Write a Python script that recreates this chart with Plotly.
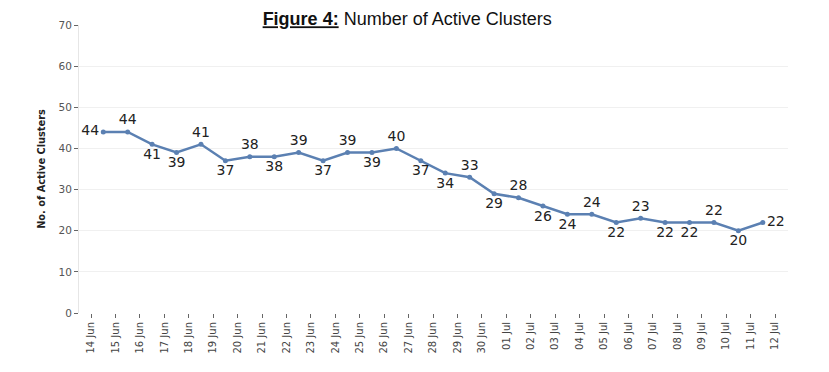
import plotly.graph_objects as go
import pandas as pd

dates = pd.date_range("2020-06-14", "2020-07-11", freq="D")
active_clusters = [44, 44, 41, 39, 41, 37, 38, 38, 39, 37, 39, 39, 40, 37,
                   34, 33, 29, 28, 26, 24, 24, 22, 23, 22, 22, 22, 20, 22]
label_pos = ["middle left", "top center", "bottom center", "bottom center", "top center",
             "bottom center", "top center", "bottom center", "top center", "bottom center",
             "top center", "bottom center", "top center", "bottom center", "bottom center",
             "top center", "bottom center", "top center", "bottom center", "bottom center",
             "top center", "bottom center", "top center", "bottom center", "bottom center",
             "top center", "bottom center", "middle right"]
y_ticks = [0, 10, 20, 30, 40, 50, 60, 70]

# each daily value drawn at mid-day, ticks at day boundaries
x_vals = dates + pd.Timedelta(hours=12)

W, H = 813, 356  # page body adds an 8px margin

fig = go.Figure()
fig.add_trace(go.Scatter(
    x=x_vals, y=active_clusters,
    mode="lines+markers+text",
    line=dict(color="#5b80b2", width=2.5),
    marker=dict(color="#5b80b2", size=5),
    text=[str(v) for v in active_clusters],
    textposition=label_pos,
    textfont=dict(family="DejaVu Sans", size=14, color="#222222"),
    cliponaxis=False,
    hoverinfo="x+y",
))

fig.update_layout(
    width=W, height=H,
    margin=dict(l=71, r=33, t=17, b=51),
    paper_bgcolor="white", plot_bgcolor="white",
    showlegend=False,
    title=dict(
        text="<b><u>Figure 4:</u></b> Number of Active Clusters",
        font=dict(family="Liberation Sans, Arial", size=18, color="#111111"),
        x=0.491, xanchor="center", y=1 - 11 / H, yanchor="middle",
    ),
    xaxis=dict(
        type="date",
        automargin=False,
        range=["2020-06-13 12:10", "2020-07-12 12:45"],
        tick0="2020-06-14", dtick=86400000, tickformat="%d %b",
        tickangle=-90,
        tickfont=dict(family="DejaVu Sans", size=10, color="#444444"),
        ticks="outside", ticklen=4, tickcolor="#666666",
        showgrid=False, showline=False, zeroline=False,
    ),
    yaxis=dict(
        automargin=False,
        range=[0, 70],
        tickvals=y_ticks,
        tickfont=dict(family="DejaVu Sans", size=10.5, color="#555555"),
        ticks="outside", ticklen=4, tickcolor="#666666",
        showgrid=True, gridcolor="#f0f0f0", gridwidth=1,
        showline=True, linecolor="#e6e6e6", linewidth=1,
        zeroline=False,
        title=dict(text="<b>No. of Active Clusters</b>",
                   font=dict(family="DejaVu Sans", size=9.8, color="#222222"),
                   standoff=11),
    ),
)

fig.write_html("out.html")
